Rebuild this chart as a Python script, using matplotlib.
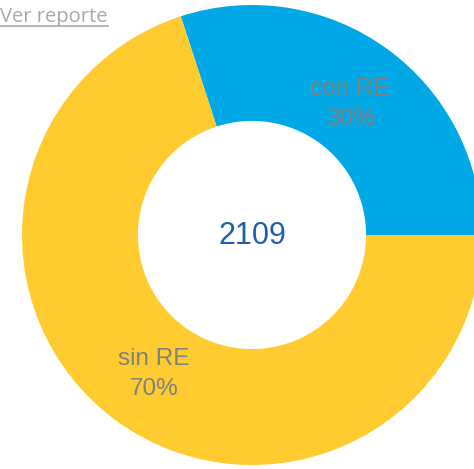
import matplotlib
matplotlib.use("Agg")
from matplotlib import pyplot as plt

etiquetas = ["con RE", "sin RE"]
valores = [633, 1476]
porcentajes = ["30%", "70%"]
colores = ["#00A9E6", "#FFCB2F"]
total = "2109"

W, H = 474, 469
fig = plt.figure(figsize=(W / 100, H / 100), dpi=100)
ax = fig.add_axes([0, 0, 1, 1])

cx, cy, r = 252, H - 235, 230
textos = [f"{e}\n{p}" for e, p in zip(etiquetas, porcentajes)]
wedges, texts = ax.pie(valores, colors=colores, startangle=0, counterclock=True,
                       center=(cx, cy), radius=r, labels=textos, labeldistance=0.725,
                       wedgeprops=dict(width=r * 0.504, linewidth=0),
                       textprops=dict(color="#808080", fontsize=17.5,
                                      family="Liberation Sans", ha="center", va="center",
                                      linespacing=1.5))
# bajar un poco las etiquetas
for t in texts:
    x, y = t.get_position()
    t.set_position((x, y - 4))

ax.text(cx, cy - 1, total, ha="center", va="center", fontsize=22,
        color="#1F5FAF", family="Liberation Sans")

# enlace "Ver reporte"
ax.text(0, H - 22, "Ver reporte", ha="left", va="baseline", fontsize=14.5,
        color="#A8A8A8", family="Open Sans")
ax.plot([0, 108], [H - 25.5, H - 25.5], color="#A8A8A8", lw=1.2)

ax.set_xlim(0, W)
ax.set_ylim(0, H)
ax.set_aspect("auto")
ax.axis("off")

fig.savefig("out.png", dpi=100)
